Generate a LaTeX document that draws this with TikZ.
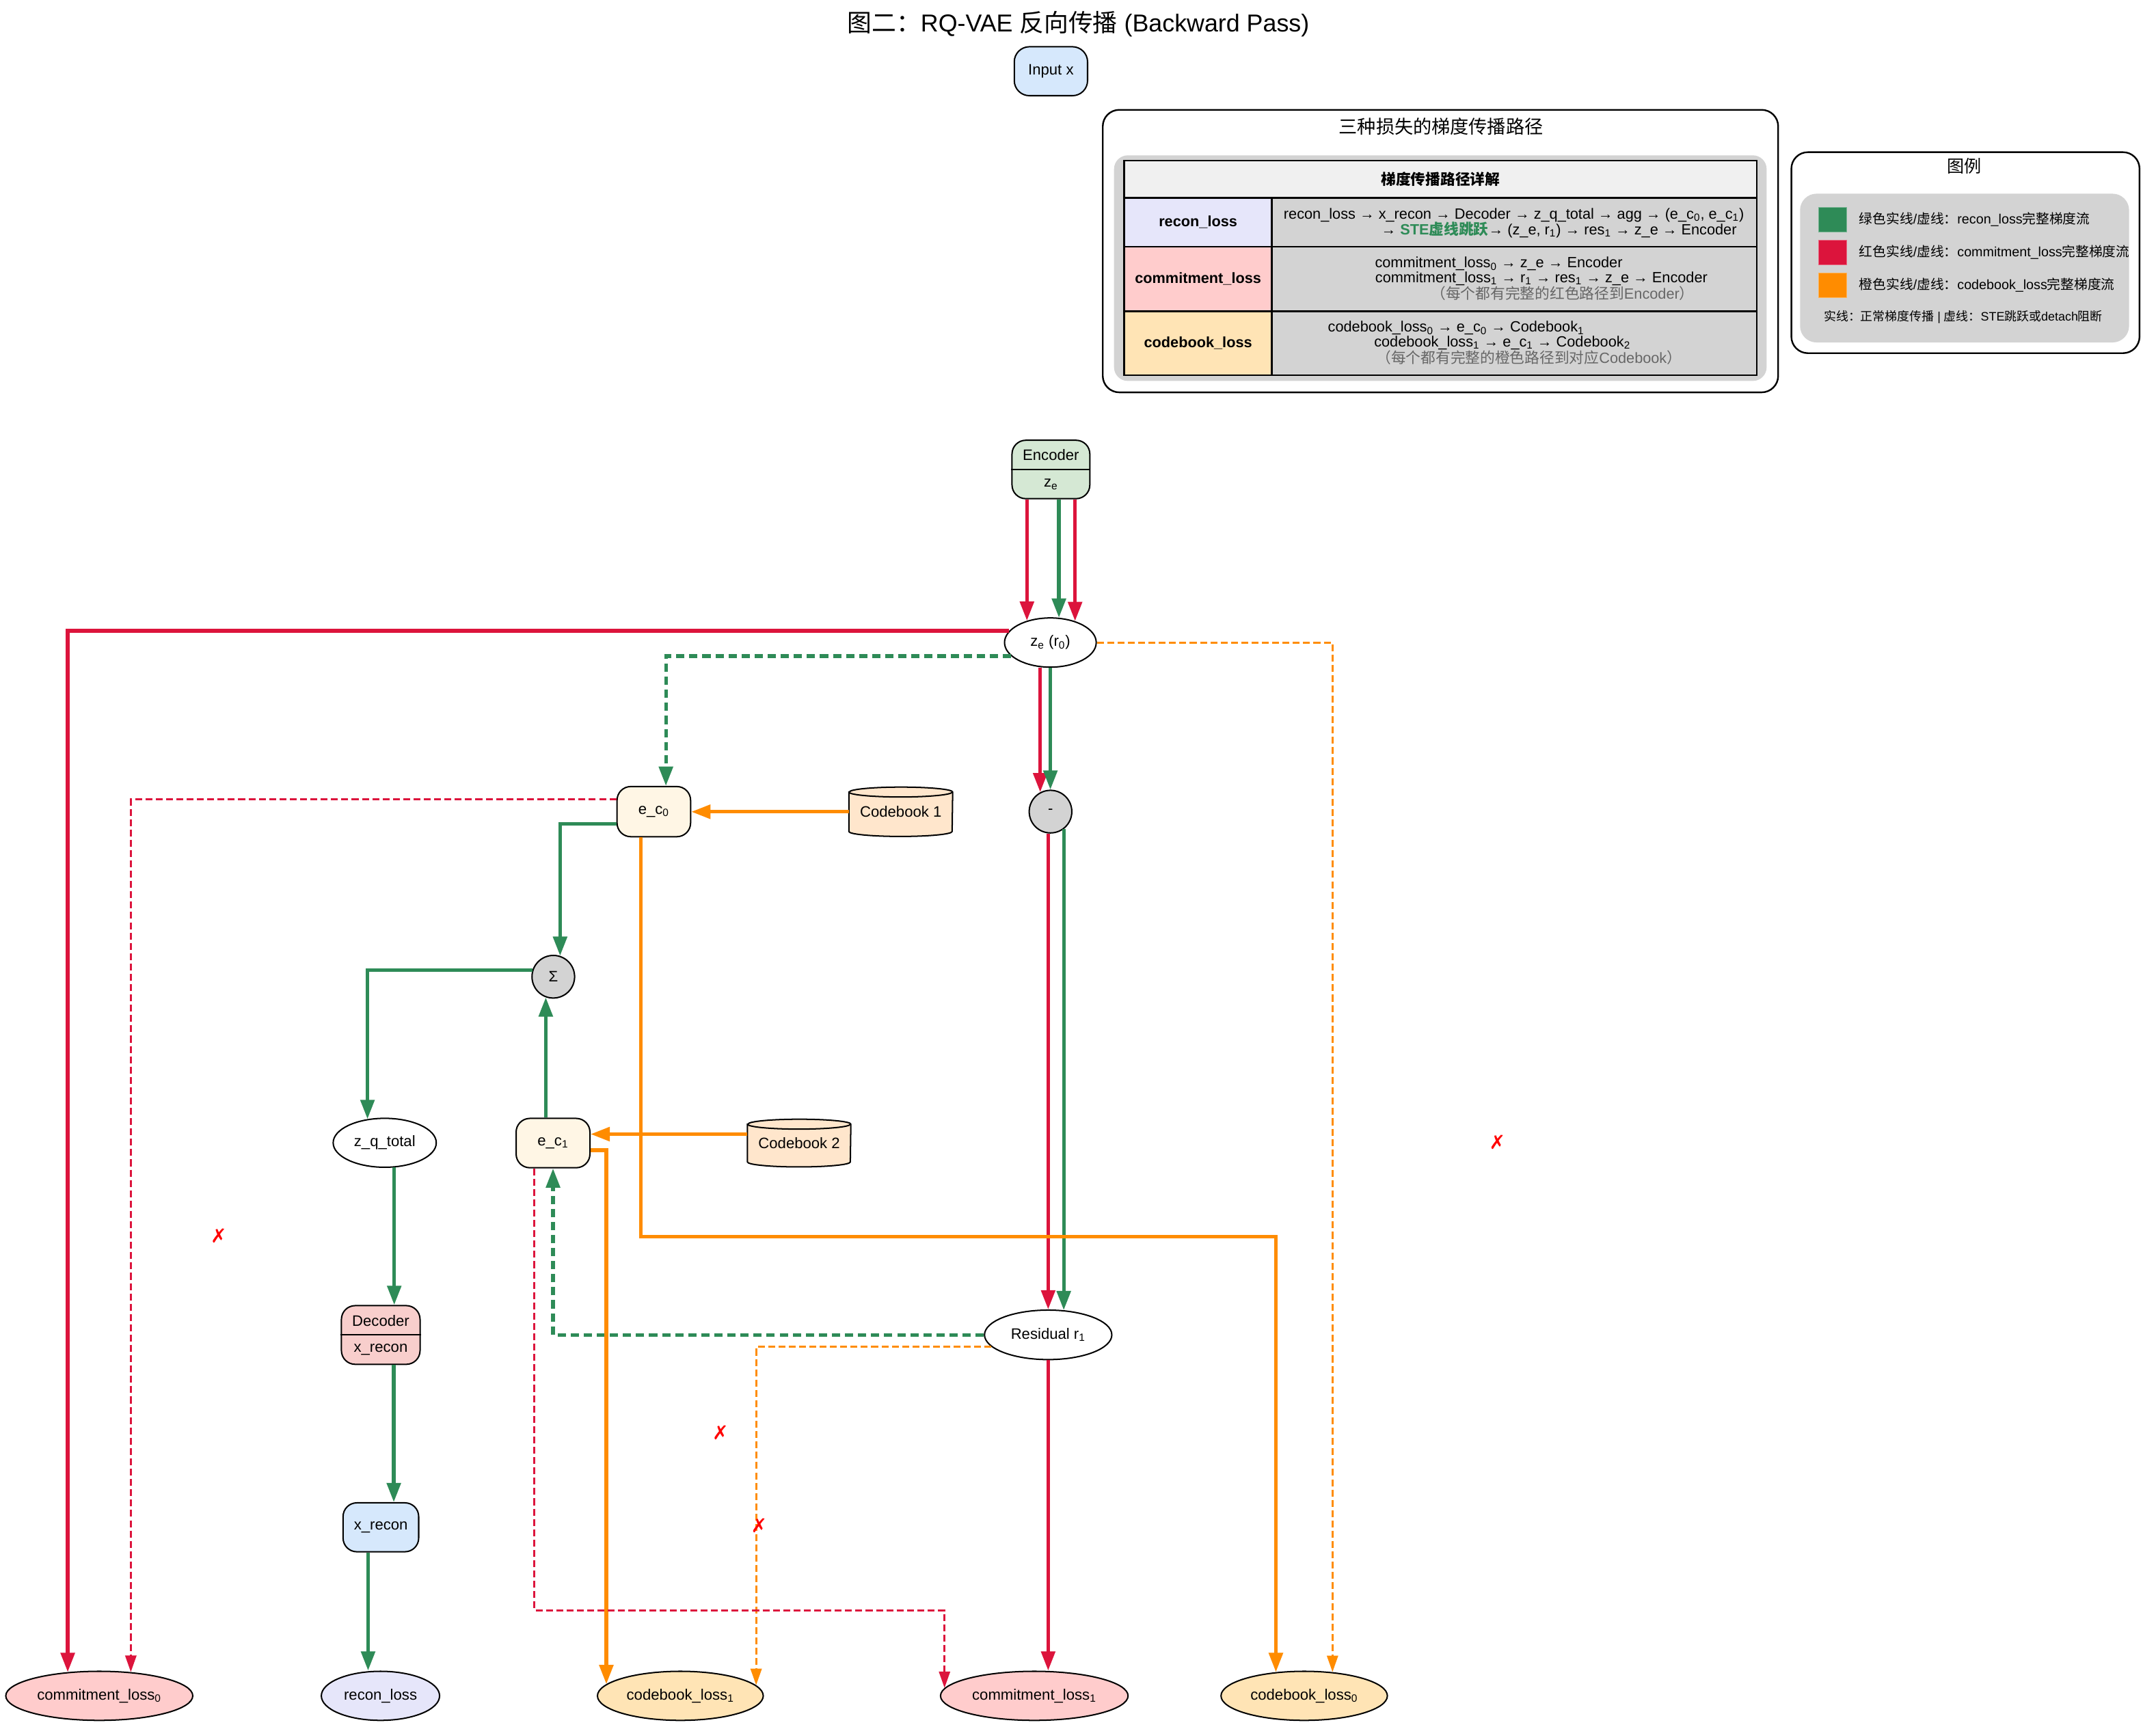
\documentclass[tikz,border=0pt]{standalone}
\usepackage{fontspec}
\setmainfont{Liberation Sans}
\newfontfamily\cjk{Noto Sans CJK SC}
\newfontfamily\dejavu{DejaVu Sans}
\usetikzlibrary{arrows.meta,shapes.geometric,calc}
\pgfdeclarelayer{bg}
\pgfsetlayers{bg,main}
\definecolor{cgreen}{HTML}{2E8B57}
\definecolor{cred}{HTML}{DC143C}
\definecolor{corange}{HTML}{FF8C00}
\definecolor{xred}{HTML}{FF0000}
\definecolor{bluefill}{HTML}{D6E8FC}
\definecolor{encfill}{HTML}{D5E8D4}
\definecolor{decfill}{HTML}{F8CECC}
\definecolor{ecfill}{HTML}{FFF6E5}
\definecolor{cbfill}{HTML}{FFE6CC}
\definecolor{lavfill}{HTML}{E6E6FA}
\definecolor{pinkfill}{HTML}{FFCCCC}
\definecolor{mocfill}{HTML}{FFE4B5}
\definecolor{grayfill}{HTML}{D3D3D3}
\definecolor{headfill}{HTML}{F0F0F0}
\definecolor{notegray}{HTML}{666666}
\newcommand{\zh}[1]{{\cjk #1}}
\newcommand{\sbs}[1]{\textsubscript{#1}}
\begin{document}
\begin{tikzpicture}[x=1pt,y=-1pt,
  txt/.style={inner sep=0pt, font=\fontsize{11}{13}\selectfont},
  tbltxt/.style={inner sep=0pt, font=\fontsize{10.8}{12}\selectfont},
  rbox/.style={draw, line width=1pt, rounded corners=10pt, inner sep=0pt, font=\fontsize{11}{13}\selectfont},
  ell/.style={ellipse, draw, line width=1pt, inner sep=0pt, minimum height=35.7pt, font=\fontsize{11}{13}\selectfont},
  opcirc/.style={circle, draw, line width=1pt, fill=grayfill, minimum size=31pt, inner sep=0pt, font=\fontsize{11}{13}\selectfont},
  cell/.style={draw, line width=1.3pt, inner sep=0pt},
  cylline/.style={line width=1pt, fill=cbfill},
  solidtip/.style={-{Triangle[length=14pt,width=10pt]}},
  dashtip/.style={-{Triangle[length=12pt,width=8pt]}},
  gline/.style={draw=cgreen, line width=2.6pt, solidtip},
  rline/.style={draw=cred, line width=2.6pt, solidtip},
  oline/.style={draw=corange, line width=2.6pt, solidtip},
  gdash/.style={draw=cgreen, line width=2.6pt, dash pattern=on 6pt off 3.5pt, solidtip},
  rdash/.style={draw=cred, line width=1.5pt, dash pattern=on 5pt off 2.5pt, dashtip},
  odash/.style={draw=corange, line width=1.5pt, dash pattern=on 5pt off 2.5pt, dashtip},
  xmark/.style={inner sep=0pt, text=xred, font={\dejavu\fontsize{14}{16}\selectfont}},
  swatch/.style={minimum width=20.2pt, minimum height=17.9pt, inner sep=0pt, line width=0.6pt},
  legtxt/.style={anchor=west, inner sep=0pt, font=\fontsize{9.8}{11}\selectfont},
]
\useasboundingbox (0,0) rectangle (1568,1256);
\begin{pgfonlayer}{bg}
\fill[white] (0,0) rectangle (1568,1256);
\end{pgfonlayer}

% ---------- title and input ----------
\node[inner sep=0pt, font=\fontsize{17.8}{20}\selectfont] (title) at (784.2,17.4)
  {\zh{图二：}RQ-VAE \zh{反向传播} (Backward Pass)};
\node[rbox, rounded corners=11pt, fill=bluefill, minimum width=53.3pt, minimum height=35.6pt] (inx) at (764.3,51.8) {Input x};

% ---------- path table ----------
\node[draw, line width=1.2pt, rounded corners=12pt, fill=white, minimum width=491.2pt, minimum height=205.5pt, inner sep=0pt] (pathbox) at (1047.6,182.65) {};
\node[inner sep=0pt, font=\fontsize{13.5}{15}\selectfont] (pathtitle) at (1048,92) {\zh{三种损失的梯度传播路径}};
\node[fill=grayfill, rounded corners=10pt, minimum width=474.6pt, minimum height=164.1pt, inner sep=0pt] (pathinner) at (1047.5,195.05) {};

\node[cell, fill=headfill, minimum width=460.1pt, minimum height=27pt, font=\bfseries\fontsize{10.8}{12}\selectfont] (thead) at (1047.65,130.4) {\zh{梯度传播路径详解}};
\node[cell, fill=lavfill, minimum width=107.4pt, minimum height=35.6pt, font=\bfseries\fontsize{10.8}{12}\selectfont] (tlab1) at (871.3,161.7) {recon\_loss};
\node[cell, fill=grayfill, minimum width=352.7pt, minimum height=35.6pt] (tcell1) at (1101.35,161.7) {};
\node[cell, fill=pinkfill, minimum width=107.4pt, minimum height=46.8pt, font=\bfseries\fontsize{10.8}{12}\selectfont] (tlab2) at (871.3,202.9) {commitment\_loss};
\node[cell, fill=grayfill, minimum width=352.7pt, minimum height=46.8pt] (tcell2) at (1101.35,202.9) {};
\node[cell, fill=mocfill, minimum width=107.4pt, minimum height=46.7pt, font=\bfseries\fontsize{10.8}{12}\selectfont] (tlab3) at (871.3,249.65) {codebook\_loss};
\node[cell, fill=grayfill, minimum width=352.7pt, minimum height=46.7pt] (tcell3) at (1101.35,249.65) {};

\node[tbltxt] (r1a) at (1101,156.3) {recon\_loss → x\_recon → Decoder → z\_q\_total → agg → (e\_c\sbs{0}, e\_c\sbs{1})};
\node[tbltxt] (r1b) at (1133.8,167.1) {→ {\bfseries\color{cgreen}STE\zh{虚线跳跃}}→ (z\_e, r\sbs{1}) → res\sbs{1} → z\_e → Encoder};
\node[tbltxt] (r2a) at (1090,191.9) {commitment\_loss\sbs{0} → z\_e → Encoder};
\node[tbltxt] (r2b) at (1121,202.7) {commitment\_loss\sbs{1} → r\sbs{1} → res\sbs{1} → z\_e → Encoder};
\node[tbltxt, text=notegray] (r2c) at (1136.5,213.5) {\zh{（每个都有完整的红色路径到}Encoder\zh{）}};
\node[tbltxt] (r3a) at (1059,238.7) {codebook\_loss\sbs{0} → e\_c\sbs{0} → Codebook\sbs{1}};
\node[tbltxt] (r3b) at (1092.6,249.5) {codebook\_loss\sbs{1} → e\_c\sbs{1} → Codebook\sbs{2}};
\node[tbltxt, text=notegray] (r3c) at (1112,260.2) {\zh{（每个都有完整的橙色路径到对应}Codebook\zh{）}};

% ---------- legend ----------
\node[draw, line width=1.2pt, rounded corners=12pt, fill=white, minimum width=253.2pt, minimum height=146.2pt, inner sep=0pt] (legbox) at (1429.4,183.8) {};
\node[inner sep=0pt, font=\fontsize{12.5}{14}\selectfont] (legtitle) at (1428.5,121) {\zh{图例}};
\node[fill=grayfill, rounded corners=12pt, minimum width=239.3pt, minimum height=108.2pt, inner sep=0pt] (leginner) at (1428.75,195) {};
\node[swatch, fill=cgreen, draw=cgreen!65!white] (swg) at (1332.9,159.75) {};
\node[swatch, fill=cred, draw=cred!65!white] (swr) at (1332.9,183.65) {};
\node[swatch, fill=corange, draw=corange!65!white] (swo) at (1332.9,207.55) {};
\node[legtxt] (legg) at (1352,159.6) {\zh{绿色实线}/\zh{虚线：}recon\_loss\zh{完整梯度流}};
\node[legtxt] (legr) at (1352,183.5) {\zh{红色实线}/\zh{虚线：}commitment\_loss\zh{完整梯度流}};
\node[legtxt] (lego) at (1352,207.2) {\zh{橙色实线}/\zh{虚线：}codebook\_loss\zh{完整梯度流}};
\node[inner sep=0pt, font=\fontsize{8.9}{10}\selectfont] (legnote) at (1427.8,230.4) {\zh{实线：正常梯度传播} | \zh{虚线：}STE\zh{跳跃或}detach\zh{阻断}};

% ---------- graph nodes ----------
\node[rbox, fill=encfill, minimum width=56.6pt, minimum height=42.5pt] (enc) at (764.3,341.5) {};
\draw[line width=1pt] (enc.west) -- (enc.east);
\node[txt] (enctxt) at (764.3,330.8) {Encoder};
\node[txt] (encze) at (764.3,352.3) {z\sbs{e}};

\node[ell, minimum width=66.7pt, minimum height=35.8pt] (ze) at (763.9,467.4) {z\sbs{e} (r\sbs{0})};
\node[opcirc] (minus) at (764,590.4) {-};
\node[rbox, fill=ecfill, minimum width=53.5pt, minimum height=36.5pt] (ec0) at (475.5,590.4) {e\_c\sbs{0}};
\node[txt, minimum width=75.1pt, minimum height=35.5pt] (cb1) at (655.1,590.5) {Codebook 1};
\node[opcirc] (sum) at (402.4,710.5) {Σ};
\node[ell, minimum width=75pt, minimum height=35.6pt] (zq) at (279.8,831.3) {z\_q\_total};
\node[rbox, fill=ecfill, minimum width=53.7pt, minimum height=35.9pt] (ec1) at (402.2,831.5) {e\_c\sbs{1}};
\node[txt, minimum width=74.8pt, minimum height=34.3pt] (cb2) at (581.2,831.5) {Codebook 2};

\node[rbox, fill=decfill, minimum width=57.2pt, minimum height=42.7pt] (dec) at (276.9,971.1) {};
\draw[line width=1pt] (dec.west) -- (dec.east);
\node[txt] (dectxt) at (276.9,960.6) {Decoder};
\node[txt] (decx) at (276.9,981.6) {x\_recon};

\node[rbox, fill=bluefill, minimum width=55pt, minimum height=35.6pt] (xrec) at (277,1111) {x\_recon};
\node[ell, minimum width=92.6pt, minimum height=36pt] (res) at (762.3,971) {Residual r\sbs{1}};

\node[ell, fill=pinkfill, minimum width=136pt] (cl0) at (72.2,1233.6) {commitment\_loss\sbs{0}};
\node[ell, fill=lavfill, minimum width=86pt] (rl) at (276.7,1233.6) {recon\_loss};
\node[ell, fill=mocfill, minimum width=120.6pt] (cbl1) at (494.8,1233.6) {codebook\_loss\sbs{1}};
\node[ell, fill=pinkfill, minimum width=136.4pt] (cl1) at (752.2,1233.6) {commitment\_loss\sbs{1}};
\node[ell, fill=mocfill, minimum width=121pt] (cbl0) at (948.5,1233.6) {codebook\_loss\sbs{0}};

% cylinders for the codebooks (behind their labels)
\begin{pgfonlayer}{bg}
\foreach \cb/\rx in {cb1/37.55, cb2/37.4}{
  \filldraw[cylline] ([yshift=-3.6pt]\cb.north west) -- ([yshift=3.6pt]\cb.south west)
    arc[start angle=180, end angle=360, x radius=\rx pt, y radius=3.6pt]
    -- ([yshift=-3.6pt]\cb.north east)
    arc[start angle=0, end angle=180, x radius=\rx pt, y radius=3.6pt] -- cycle;
  \draw[line width=1pt] ([yshift=-3.6pt]\cb.north west)
    arc[start angle=180, end angle=360, x radius=\rx pt, y radius=3.6pt];
}
\end{pgfonlayer}

% ---------- connectors ----------
% Encoder -> z_e
\draw[rline] (enc.south -| ze.137) -- (ze.137);
\draw[gline] (enc.south -| ze.71) -- (ze.71);
\draw[rline] (enc.south -| ze.41.5) -- (ze.41.5);
% z_e -> minus
\draw[rline] (ze.south -| minus.118) -- (minus.118);
\draw[gline] (ze.south) -- (ze.south |- minus.north);
% minus -> residual
\draw[rline] (minus.south -| res.north) -- (res.north);
\draw[gline] (minus.-53) -- (minus.-53 |- res.58);
% residual -> commitment_loss1
\draw[rline] (res.south) -- (res.south |- cl1.north);
% residual -> e_c1 (STE)
\draw[gdash] (res.west) -| (ec1.south);
% residual -> codebook_loss1 (detach)
\draw[odash] (res.192) -| (cbl1.8);
% z_e -> commitment_loss0
\draw[rline] (ze.164) -| (cl0.143);
% e_c0 -> commitment_loss0 (detach)
\draw[rdash] ([yshift=8.9pt]ec0.west) -| (cl0.37);
% e_c0 -> sum
\draw[gline] ([yshift=-8.8pt]ec0.west) -| (sum.72);
% codebook1 -> e_c0
\draw[oline] (cb1.west) -- (cb1.west -| ec0.east);
% z_e -> e_c0 (STE)
\draw[gdash] (ze.199) -| ([xshift=8.8pt]ec0.north);
% e_c0 -> codebook_loss0
\draw[oline] ([xshift=-9.4pt]ec0.south) -- ++(0,290.5) -| (cbl0.140);
% z_e -> codebook_loss0 (detach)
\draw[odash] (ze.east) -| (cbl0.40);
% e_c1 -> sum
\draw[gline] (ec1.north -| sum.250) -- (sum.250);
% codebook2 -> e_c1
\draw[oline] ([yshift=6.5pt]cb2.west) -- ([yshift=6.5pt]cb2.west -| ec1.east);
% e_c1 -> codebook_loss1
\draw[oline] ([yshift=-5.2pt]ec1.east) -| (cbl1.171);
% e_c1 -> commitment_loss1 (detach)
\draw[rdash] ([xshift=-13.5pt]ec1.south) -- ++(0,321.6) -| (cl1.175);
% sum -> z_q_total
\draw[gline] (sum.163) -| (zq.126);
% z_q_total -> decoder
\draw[gline] (zq.-69) -- (zq.-69 |- dec.north);
% decoder -> x_recon
\draw[gline] ([xshift=9.5pt]dec.south) -- ([xshift=9.5pt]dec.south |- xrec.north);
% x_recon -> recon_loss
\draw[gline] ([xshift=-9.3pt]xrec.south) -- ([xshift=-9.3pt]xrec.south |- rl.north);

% ---------- blocked marks ----------
\node[xmark] (xa) at (159,899) {✗};
\node[xmark] (xb) at (1089,831) {✗};
\node[xmark] (xc) at (524,1042) {✗};
\node[xmark] (xd) at (552,1110) {✗};
\end{tikzpicture}
\end{document}
